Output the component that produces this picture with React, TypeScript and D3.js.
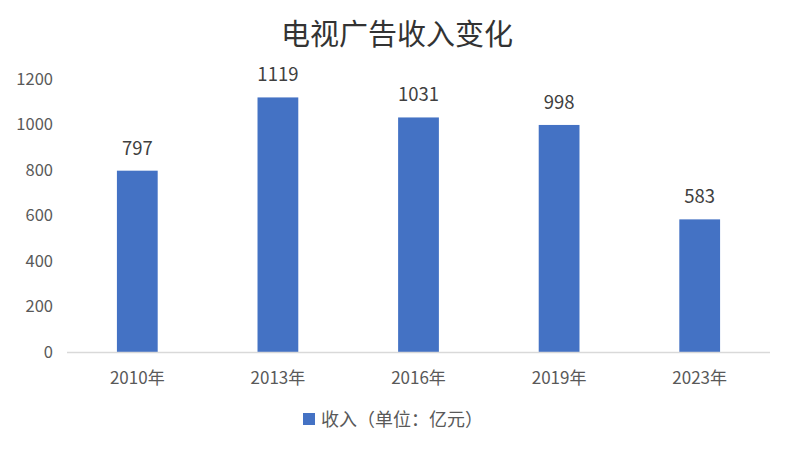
import { useEffect, useRef } from 'react';
import * as d3 from 'd3';

const years = ['2010年', '2013年', '2016年', '2019年', '2023年'];
const revenue = [797, 1119, 1031, 998, 583];
const yTicks = [0, 200, 400, 600, 800, 1000, 1200];

const W = 792;
const H = 451;

export default function App() {
  const svgRef = useRef<SVGSVGElement>(null);

  useEffect(() => {
    if (!svgRef.current) return;
    const svg = d3.select(svgRef.current);
    svg.selectAll('*').remove();

    const left = 67, right = 770, top = 79, bottom = 352;
    const font = '"Noto Sans CJK SC", "Noto Sans", sans-serif';
    const textColor = '#595959';

    const x = d3.scaleBand().domain(years).range([left, right]).paddingInner(0.71).paddingOuter(0.355);
    const y = d3.scaleLinear().domain([0, 1200]).range([bottom, top]);

    svg.append('rect').attr('width', W).attr('height', H).attr('fill', '#fff');

    // title
    svg.append('text')
      .attr('x', 397).attr('y', 45)
      .attr('text-anchor', 'middle')
      .attr('font-family', font)
      .attr('font-size', 29)
      .attr('font-weight', 400)
      .attr('fill', '#333')
      .text('电视广告收入变化');

    // y tick labels
    svg.append('g').selectAll('text')
      .data(yTicks)
      .join('text')
      .attr('x', 53)
      .attr('y', d => y(d))
      .attr('dy', '0.35em')
      .attr('text-anchor', 'end')
      .attr('font-family', font)
      .attr('font-size', 16.5)
      .attr('fill', textColor)
      .text(d => d);

    // bars
    svg.append('g').selectAll('rect')
      .data(revenue)
      .join('rect')
      .attr('x', (_, i) => x(years[i])!)
      .attr('y', d => y(d))
      .attr('width', x.bandwidth())
      .attr('height', d => bottom - y(d))
      .attr('fill', '#4472C4');

    // value labels
    svg.append('g').selectAll('text')
      .data(revenue)
      .join('text')
      .attr('x', (_, i) => x(years[i])! + x.bandwidth() / 2)
      .attr('y', d => y(d) - 16)
      .attr('text-anchor', 'middle')
      .attr('font-family', font)
      .attr('font-size', 18.5)
      .attr('fill', '#404040')
      .text(d => d);

    // axis line
    svg.append('line')
      .attr('x1', left).attr('x2', right)
      .attr('y1', bottom + 0.5).attr('y2', bottom + 0.5)
      .attr('stroke', '#d9d9d9')
      .attr('stroke-width', 1.5);

    // x labels
    svg.append('g').selectAll('text')
      .data(years)
      .join('text')
      .attr('x', d => x(d)! + x.bandwidth() / 2)
      .attr('y', 384)
      .attr('text-anchor', 'middle')
      .attr('font-family', font)
      .attr('font-size', 17)
      .attr('fill', textColor)
      .text(d => d);

    // legend
    svg.append('rect')
      .attr('x', 303).attr('y', 413)
      .attr('width', 12).attr('height', 12)
      .attr('fill', '#4472C4');
    svg.append('text')
      .attr('x', 321).attr('y', 426)
      .attr('font-family', font)
      .attr('font-size', 18)
      .attr('fill', textColor)
      .text('收入（单位：亿元）');
  }, []);

  return <svg ref={svgRef} width={W} height={H} style={{ display: 'block', margin: -8 }} />;
}
